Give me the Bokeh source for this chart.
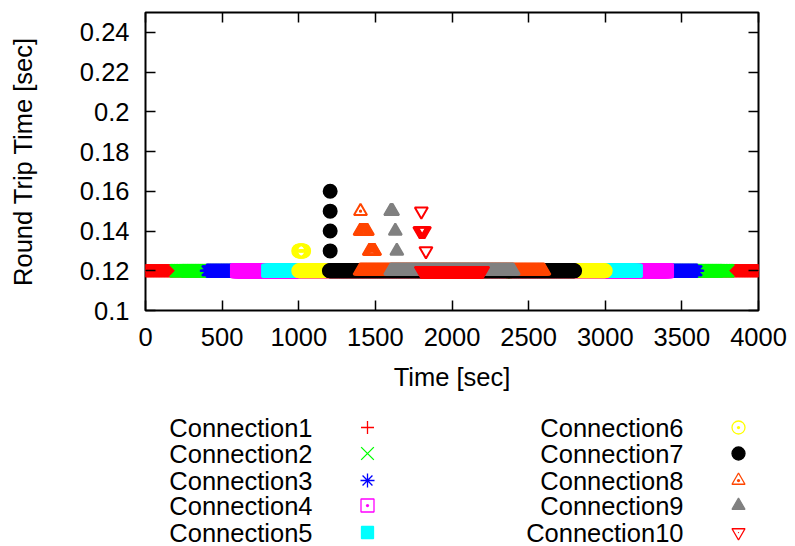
import numpy as np
from bokeh.plotting import figure
from bokeh.models import Range1d, FixedTicker, LinearAxis
from bokeh.layouts import column
from bokeh.embed import file_html
from bokeh.resources import INLINE
from bokeh.core.properties import value

# ---------------- data ----------------
connections = ["Connection1", "Connection2", "Connection3", "Connection4", "Connection5",
               "Connection6", "Connection7", "Connection8", "Connection9", "Connection10"]
colors = ["#ff0000", "#00ff00", "#0000ff", "#ff00ff", "#00ffff",
          "#ffff00", "#000000", "#ff4500", "#808080", "#ff0000"]
markers = ["cross", "x", "asterisk", "square_dot", "square",
           "circle_dot", "circle", "triangle_dot", "triangle", "inverted_triangle"]
marker_sizes = [13, 18, 14, 13, 12, 13, 13, 13, 13, 13]
filled = [False, False, False, False, True, False, True, False, True, False]
center_dot = [False, False, False, False, False, False, False, False, False, True]

# each connection is active (RTT samples at the base value) between start and end
start_times = [0, 200, 400, 600, 800, 1000, 1200, 1400, 1600, 1800]
end_times = [4000, 3800, 3600, 3400, 3200, 3000, 2800, 2600, 2400, 2200]
base_rtt = [0.12, 0.12, 0.12, 0.12, 0.12, 0.12, 0.12, 0.12, 0.12, 0.12]
sample_step = 4  # seconds between RTT samples

# RTT samples above the base value
spike_times = [
    [], [], [], [], [],
    [1000, 1004, 1008, 1012, 1016, 1020, 1024, 1028, 1032],
    [1205, 1205, 1205, 1205],
    [1403,
     1400, 1404, 1408, 1412, 1416, 1420, 1424, 1428, 1432, 1436, 1440, 1444, 1448,
     1460, 1464, 1468, 1472, 1476, 1480, 1484, 1488, 1492, 1495],
    [1600, 1604, 1608, 1612, 1630, 1640],
    [1800, 1790, 1795, 1800, 1805, 1810, 1815, 1820, 1830],
]
spike_rtts = [
    [], [], [], [], [],
    [0.13, 0.13, 0.13, 0.13, 0.13, 0.13, 0.13, 0.13, 0.13],
    [0.13, 0.14, 0.15, 0.16],
    [0.15,
     0.14, 0.14, 0.14, 0.14, 0.14, 0.14, 0.14, 0.14, 0.14, 0.14, 0.14, 0.14, 0.14,
     0.13, 0.13, 0.13, 0.13, 0.13, 0.13, 0.13, 0.13, 0.13, 0.13],
    [0.15, 0.15, 0.15, 0.15, 0.14, 0.13],
    [0.15, 0.14, 0.14, 0.14, 0.14, 0.14, 0.14, 0.14, 0.13],
]

x_ticks = [0, 500, 1000, 1500, 2000, 2500, 3000, 3500, 4000]
x_tick_labels = ["0", "500", "1000", "1500", "2000", "2500", "3000", "3500", "4000"]
y_ticks = [0.1, 0.12, 0.14, 0.16, 0.18, 0.2, 0.22, 0.24]
y_tick_labels = ["0.1", "0.12", "0.14", "0.16", "0.18", "0.2", "0.22", "0.24"]
x_range = (0, 4000)
y_range = (0.1, 0.25)

FONT = "Liberation Sans"
FS = "25.5px"

# layout (page pixels)
FRAME_L, FRAME_T, FRAME_W, FRAME_H = 145, 12, 613, 298
PAGE_W, PAGE_H = 795, 546
MAIN_H = 395
LEG_H = PAGE_H - MAIN_H

# ---------------- main plot ----------------
p = figure(frame_width=FRAME_W, frame_height=FRAME_H,
           min_border_left=FRAME_L, min_border_right=PAGE_W - FRAME_L - FRAME_W,
           min_border_top=FRAME_T, min_border_bottom=MAIN_H - FRAME_T - FRAME_H,
           x_range=Range1d(*x_range), y_range=Range1d(*y_range),
           toolbar_location=None, output_backend="svg",
           background_fill_color="white", border_fill_color="white")
p.grid.visible = False
p.outline_line_color = "black"
p.outline_line_width = 2

for i in range(len(connections)):
    t = np.arange(start_times[i], end_times[i] + sample_step / 2, sample_step)
    r = np.full(len(t), base_rtt[i])
    xs = np.concatenate([t, np.array(spike_times[i], dtype=float)])
    ys = np.concatenate([r, np.array(spike_rtts[i], dtype=float)])
    p.scatter(xs, ys, marker=markers[i], size=marker_sizes[i], line_color=colors[i],
              line_width=2, line_alpha=1.0,
              fill_color=colors[i] if filled[i] else None)

p.xaxis.ticker = FixedTicker(ticks=x_ticks)
p.yaxis.ticker = FixedTicker(ticks=y_ticks)
p.xaxis.major_label_overrides = {t: l for t, l in zip(x_ticks, x_tick_labels)}
p.yaxis.major_label_overrides = {t: l for t, l in zip(y_ticks, y_tick_labels)}
p.xaxis.axis_label = "Time [sec]"
p.yaxis.axis_label = "Round Trip Time [sec]"

for ax in [p.xaxis[0], p.yaxis[0]]:
    ax.axis_line_color = None
    ax.major_tick_in = 10
    ax.major_tick_out = 0
    ax.major_tick_line_width = 1.5
    ax.minor_tick_line_color = None
    ax.major_label_text_font = FONT
    ax.major_label_text_font_size = FS
    ax.major_label_text_color = "black"
    ax.axis_label_text_font = FONT
    ax.axis_label_text_font_size = FS
    ax.axis_label_text_font_style = "normal"
    ax.axis_label_text_color = "black"
p.xaxis.major_label_standoff = 17
p.xaxis.axis_label_standoff = 14
p.yaxis.major_label_standoff = 16
p.yaxis.axis_label_standoff = 40

# mirrored ticks (gnuplot style) on right and top, without labels
ax_r = LinearAxis(ticker=FixedTicker(ticks=y_ticks),
                  major_label_overrides={t: "" for t in y_ticks})
ax_t = LinearAxis(ticker=FixedTicker(ticks=x_ticks),
                  major_label_overrides={t: "" for t in x_ticks})
for ax in [ax_r, ax_t]:
    ax.axis_line_color = None
    ax.major_tick_in = 10
    ax.major_tick_out = 0
    ax.major_tick_line_width = 1.5
    ax.minor_tick_line_color = None
    ax.major_label_text_color = None
    ax.major_label_standoff = 0
p.add_layout(ax_r, "right")
p.add_layout(ax_t, "above")

# ---------------- legend (gnuplot style, two columns) ----------------
# legend coordinates are page pixels (x) and pixels from the legend's top (y)
leg = figure(frame_width=FRAME_W, frame_height=LEG_H,
             min_border_left=FRAME_L, min_border_right=PAGE_W - FRAME_L - FRAME_W,
             min_border_top=0, min_border_bottom=0,
             x_range=Range1d(FRAME_L, FRAME_L + FRAME_W), y_range=Range1d(LEG_H, 0),
             toolbar_location=None, output_backend="svg",
             x_axis_type=None, y_axis_type=None,
             background_fill_color="white", border_fill_color="white")
leg.grid.visible = False
leg.outline_line_color = None

col_text_x = [312, 683]
col_mark_x = [367, 738]
row_y = [32, 58, 85, 110, 137]

leg_x = [col_text_x[i // 5] for i in range(len(connections))]
leg_y = [row_y[i % 5] for i in range(len(connections))]
leg.text(x=leg_x, y=leg_y, text=connections, text_align="right",
         text_baseline="middle", text_font=value(FONT), text_font_size=FS,
         text_color="black")

for i in range(len(connections)):
    mx = [col_mark_x[i // 5]]
    my = [row_y[i % 5]]
    leg.scatter(x=mx, y=my, marker=markers[i], size=marker_sizes[i],
                line_color=colors[i], line_width=1.3, line_alpha=1.0,
                fill_color=colors[i] if filled[i] else None)
    if center_dot[i]:
        leg.scatter(x=mx, y=my, marker="dot", size=5,
                    line_color=colors[i], fill_color=colors[i])

layout = column(p, leg, spacing=0)
open("out.html", "w").write(file_html(layout, INLINE))
